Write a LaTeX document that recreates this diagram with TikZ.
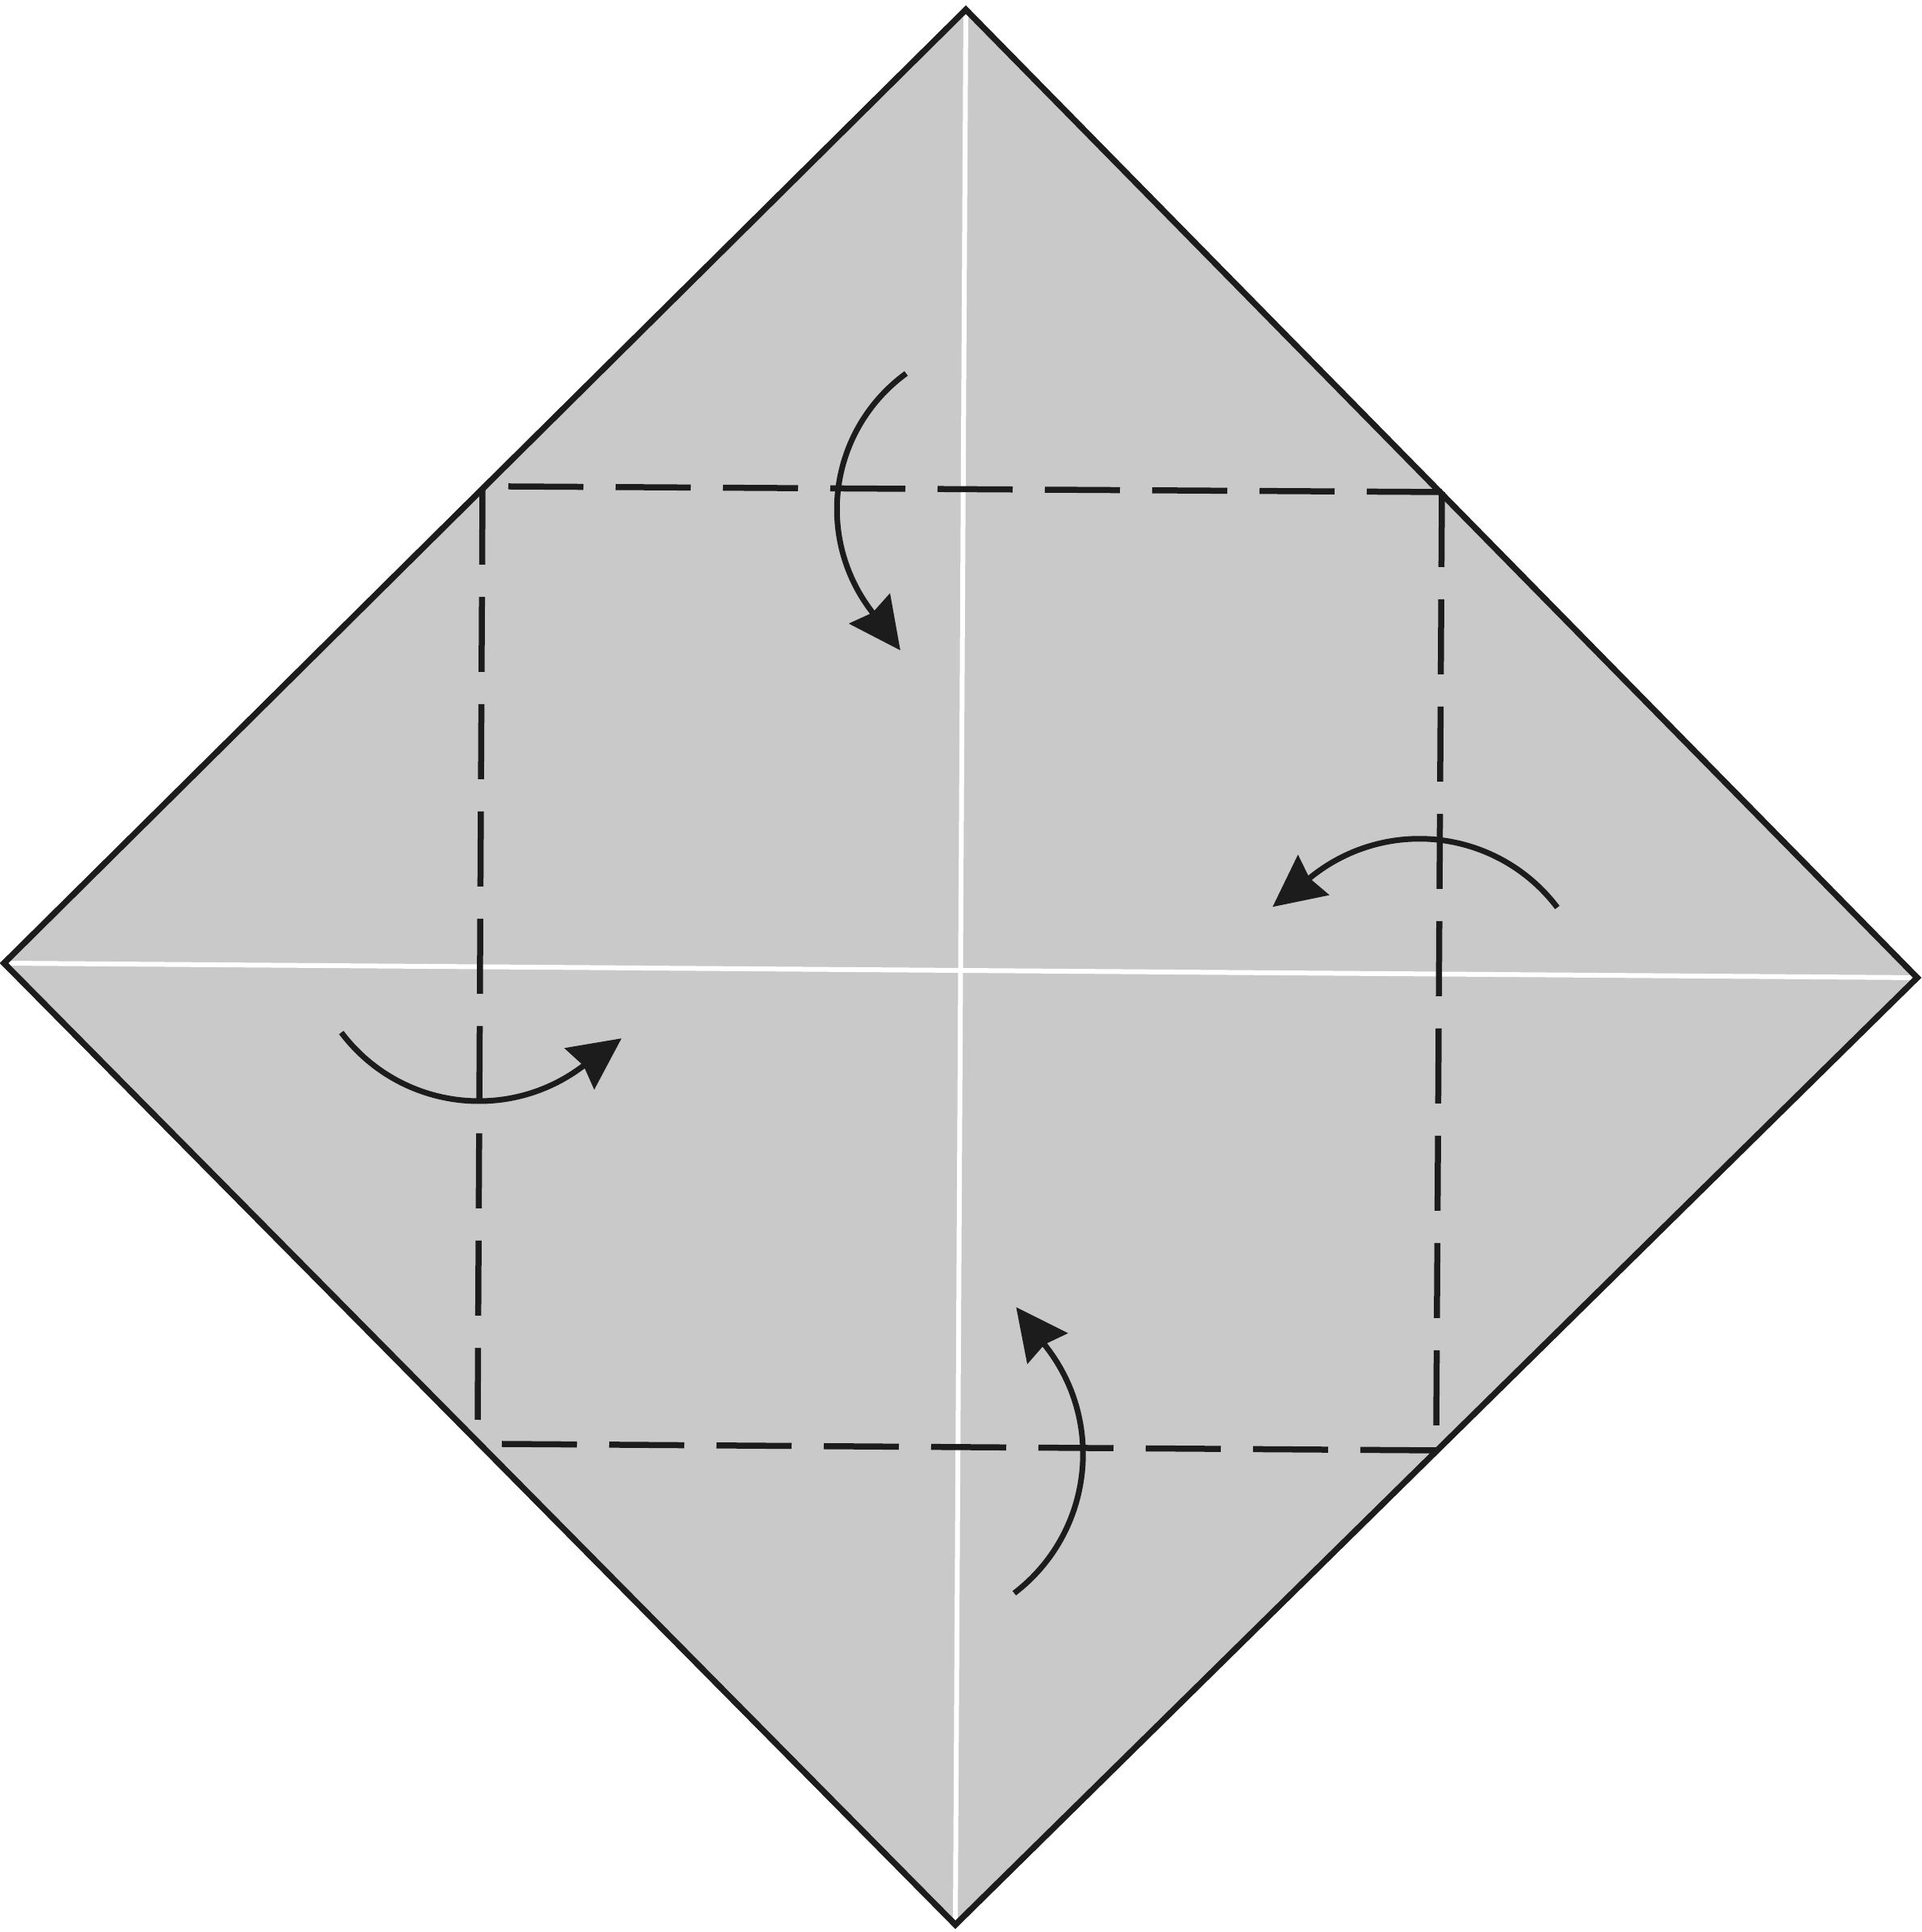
\documentclass[tikz,border=0pt]{standalone}
\usetikzlibrary{arrows.meta}
\definecolor{paper}{RGB}{201,201,201}
\definecolor{ink}{RGB}{28,28,28}
\tikzset{
  sheet/.style={draw=ink,line width=0.075cm,line join=miter},
  crease/.style={draw=white,line width=0.06cm},
  foldline/.style={draw=ink,line width=0.075cm,dash pattern=on 0.93cm off 0.40cm},
  foldarrow/.style={draw=ink,line width=0.07cm,-{Stealth[length=0.64cm,width=0.62cm,inset=0.06cm]}}
}
\begin{document}
\begin{tikzpicture}
\useasboundingbox[fill=white] (0,0) rectangle (23.82,23.95);
% diamond corners
\coordinate (T) at (11.97,23.83);
\coordinate (R) at (23.76,11.83);
\coordinate (B) at (11.84,0.09);
\coordinate (L) at (0.05,12.01);
\fill[paper] (T) -- (R) -- (B) -- (L) -- cycle;
% creases
\draw[crease] (T) -- (B);
\draw[crease] (L) -- (R);
\draw[sheet] (T) -- (R) -- (B) -- (L) -- cycle;
% dashed valley-fold square
\coordinate (q1) at (6.30,17.92);
\coordinate (q2) at (17.87,17.85);
\coordinate (q3) at (17.80,6.25);
\coordinate (q4) at (6.22,6.05);
\coordinate (q5) at (17.82,5.97);
\coordinate (q6) at (5.98,17.88);
\coordinate (q7) at (5.92,6.35);
\draw[foldline] (q1) -- (q2);
\draw[foldline] (q2) -- (q3);
\draw[foldline] (q4) -- (q5);
\draw[foldline] (q6) -- (q7);
% fold arrows: arc up to the arrow base, then the tip along the tangent
\coordinate (a1) at (11.23,19.32);
\coordinate (a2) at (19.30,12.70);
\coordinate (a3) at (4.23,11.15);
\coordinate (a4) at (12.57,4.20);
\draw[foldarrow] (a1) arc[start angle=126,end angle=216.4,radius=2.08] -- ++(306.4:0.64);
\draw[foldarrow] (a2) arc[start angle=37,end angle=127.9,radius=2.14] -- ++(217.9:0.64);
\draw[foldarrow] (a3) arc[start angle=217,end angle=305.8,radius=2.135] -- ++(35.8:0.64);
\draw[foldarrow] (a4) arc[start angle=-52.6,end angle=37.2,radius=2.17] -- ++(127.2:0.64);
\end{tikzpicture}
\end{document}
